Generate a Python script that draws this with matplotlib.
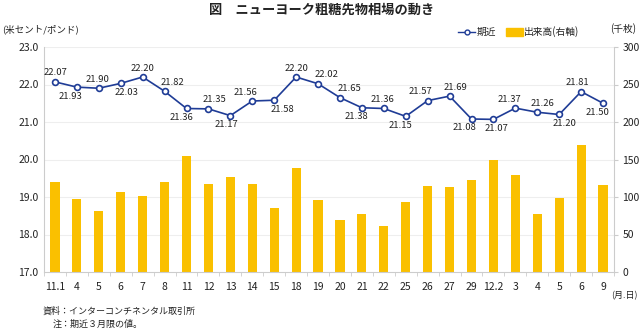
import matplotlib
matplotlib.use("Agg")
import matplotlib.pyplot as plt
import numpy as np
from matplotlib.lines import Line2D
from matplotlib.patches import Rectangle

plt.rcParams['font.family'] = ['Noto Sans CJK JP', 'DejaVu Sans']

dates = ["11.1", "4", "5", "6", "7", "8", "11", "12", "13", "14", "15", "18", "19",
         "20", "21", "22", "25", "26", "27", "29", "12.2", "3", "4", "5", "6", "9"]
price = [22.07, 21.93, 21.90, 22.03, 22.20, 21.82, 21.36, 21.35, 21.17, 21.56, 21.58, 22.20, 22.02,
         21.65, 21.38, 21.36, 21.15, 21.57, 21.69, 21.08, 21.07, 21.37, 21.26, 21.20, 21.81, 21.50]
volume = [120, 97, 81, 107, 101, 120, 155, 117, 127, 118, 86, 139, 96,
          69, 77, 61, 94, 115, 114, 123, 149, 130, 78, 99, 169, 116]
# label placement: a = above, b = below; horizontal shift in pixels
label_pos = ["a", "b", "a", "b", "a", "a", "b", "a", "b", "a", "b", "a", "a",
             "a", "b", "a", "b", "a", "a", "b", "b", "a", "a", "b", "a", "b"]
label_dx = [1, -6, -1, 6, 0, 8, -5, 6, -4, -7, 8, 0, 8,
            10, -5, -1, -5, -7, 6, -7, 3, -6, 5, 5, -4, -6]

fig = plt.figure(figsize=(6.4, 3.3), dpi=100)
ax2 = fig.add_axes([44/640, 1-272/330, 570/640, 225/330])
ax = ax2.twinx()

x = np.arange(len(dates))
ax2.bar(x, volume, width=0.42, color="#FAC000", zorder=2)
ax2.set_ylim(0, 300)
ax2.set_yticks(np.arange(0, 301, 50))
ax2.yaxis.tick_right()
ax2.set_xlim(-0.5, len(dates)-0.5)

ax.plot(x, price, color="#1F3C96", lw=1.2, marker="o", ms=4.2,
        mfc="white", mec="#1F3C96", mew=1.2, zorder=5)
ax.set_ylim(17.0, 23.0)
ax.set_yticks(np.arange(17, 23.01, 1.0))
ax.yaxis.tick_left()
ax.set_yticklabels([f"{v:.1f}" for v in np.arange(17, 23.01, 1.0)])

for xi, v, p, dx in zip(x, price, label_pos, label_dx):
    dy = 3.2 if p == "a" else -3.2
    ax.annotate(f"{v:.2f}", (xi, v), xytext=(dx*0.72, dy), textcoords="offset points",
                ha="center", va="bottom" if p == "a" else "top",
                fontsize=6.8, color="#222222")

for g in np.arange(18, 23.01, 1.0):
    ax2.axhline((g-17)*50, color="#EEEEEE", lw=0.8, zorder=0)

for a in (ax, ax2):
    for s in a.spines.values():
        s.set_visible(False)
for s in ('left', 'right', 'bottom'):
    ax2.spines[s].set_visible(True)
    ax2.spines[s].set_color("#CCCCCC")

ax2.set_xticks(x)
ax2.set_xticklabels(dates, fontsize=7.5, color="#222222")
ax2.tick_params(axis='x', length=0, pad=7)
ax2.set_xticks(np.arange(-0.5, len(dates), 1.0), minor=True)
ax2.tick_params(axis='x', which='minor', length=3, color="#CCCCCC")
ax2.tick_params(axis='y', length=3, color="#CCCCCC", labelsize=7.5, labelcolor="#222222", pad=3)
ax.tick_params(axis='y', length=0, labelsize=7.5, labelcolor="#222222", pad=4)

fig.text(322/640, 1-10/330, "図　ニューヨーク粗糖先物相場の動き", ha="center", va="center",
         fontsize=9.5, fontweight="bold", color="#222222")
fig.text(2/640, 1-29/330, "(米セント/ポンド)", ha="left", va="center", fontsize=6.8, color="#222222")
fig.text(636/640, 1-29/330, "(千枚)", ha="right", va="center", fontsize=7, color="#222222")

# legend
ly = 1-32/330
fig.add_artist(Line2D([458/640, 475/640], [ly, ly], color="#1F3C96", lw=1.0))
fig.add_artist(Line2D([466.5/640], [ly], color="#1F3C96", marker="o", ms=3.5,
                      mfc="white", mec="#1F3C96", mew=1.0, lw=0))
fig.text(477/640, ly, "期近", ha="left", va="center", fontsize=7, color="#222222")
fig.add_artist(Rectangle((506/640, ly-3.5/330), 17/640, 7/330, color="#FAC000",
                         transform=fig.transFigure))
fig.text(524/640, ly, "出来高(右軸)", ha="left", va="center", fontsize=7, color="#222222")

fig.text(638/640, 1-296/330, "(月.日)", ha="right", va="center", fontsize=6.5, color="#222222")
fig.text(43/640, 1-311/330, "資料：インターコンチネンタル取引所", ha="left", va="center",
         fontsize=6.5, color="#222222")
fig.text(53/640, 1-324/330, "注：期近３月限の値。", ha="left", va="center",
         fontsize=6.5, color="#222222")

fig.savefig("out.png", dpi=100)
